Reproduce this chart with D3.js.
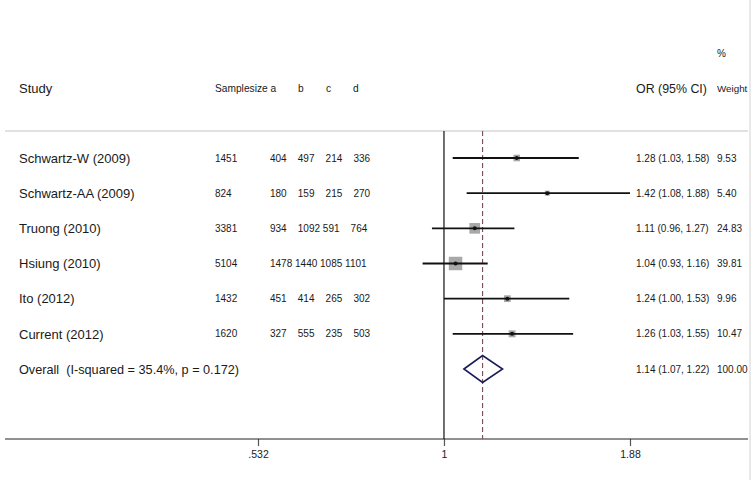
<!DOCTYPE html>
<html>
<head>
<meta charset="utf-8">
<script src="https://cdn.jsdelivr.net/npm/d3@7"></script>
<style>
  body { margin: 0; background: #fff; }
  text { font-family: "Liberation Sans", Arial, sans-serif; fill: #1a1a1a; white-space: pre; }
</style>
</head>
<body>
<div id="chart"></div>
<script>
let studies    = ['Schwartz-W (2009)', 'Schwartz-AA (2009)', 'Truong (2010)', 'Hsiung (2010)', 'Ito (2012)', 'Current (2012)'];
let sampleSize = [1451, 824, 3381, 5104, 1432, 1620];
let colA       = [404, 180, 934, 1478, 451, 327];
let colB       = [497, 159, 1092, 1440, 414, 555];
let colC       = [214, 215, 591, 1085, 265, 235];
let colD       = [336, 270, 764, 1101, 302, 503];
let orVal      = [1.28, 1.42, 1.11, 1.04, 1.24, 1.26];
let ciLow      = [1.03, 1.08, 0.96, 0.93, 1.00, 1.03];
let ciHigh     = [1.58, 1.88, 1.27, 1.16, 1.53, 1.55];
let weights    = [9.53, 5.40, 24.83, 39.81, 9.96, 10.47];

let overallLabel = 'Overall  (I-squared = 35.4%, p = 0.172)';
let overall      = [1.14, 1.07, 1.22];
let overallWeight = 100.00;

let tickValues = [0.532, 1, 1.88];
let tickLabels = ['.532', '1', '1.88'];

let chart_width  = 751;
let chart_height = 480;

let svg = d3.select('#chart')
    .append('svg')
    .attr('width', chart_width)
    .attr('height', chart_height);

// scales
let xScale = d3.scaleLog()
    .domain([0.532, 1.88])
    .range([258, 630]);

let yScale = d3.scaleLinear()
    .domain([0, 6])
    .range([158, 369]);

let boxScale = d3.scaleSqrt()
    .domain([0, 40])
    .range([0, 13.5]);

let plotTop = 131, plotBottom = 439;

// faint right border like the screenshot edge
svg.append('line')
    .attr('x1', 750).attr('x2', 750)
    .attr('y1', 0).attr('y2', chart_height)
    .attr('stroke', '#e2e2e2').attr('stroke-width', 1.5);

// header
svg.append('text').attr('x', 717).attr('y', 57).attr('font-size', 10).text('%');
svg.append('text').attr('x', 19).attr('y', 93).attr('font-size', 13).text('Study');
svg.append('text').attr('x', 215).attr('y', 92).attr('font-size', 10.2).text('Samplesize a');
svg.append('text').attr('x', 298).attr('y', 92).attr('font-size', 10.2).text('b');
svg.append('text').attr('x', 326).attr('y', 92).attr('font-size', 10.2).text('c');
svg.append('text').attr('x', 353).attr('y', 92).attr('font-size', 10.2).text('d');
svg.append('text').attr('x', 636).attr('y', 93).attr('font-size', 12.4).text('OR (95% CI)');
svg.append('text').attr('x', 717).attr('y', 92).attr('font-size', 9.8).text('Weight');

// header rule
svg.append('line')
    .attr('x1', 5).attr('x2', 748)
    .attr('y1', plotTop).attr('y2', plotTop)
    .attr('stroke', '#c4c4c4').attr('stroke-width', 1.2);

// x axis
let xAxis = d3.axisBottom(xScale)
    .tickValues(tickValues)
    .tickSize(7)
    .tickFormat((d, i) => tickLabels[i]);

let axisG = svg.append('g')
    .attr('class', 'x-axis')
    .attr('transform', 'translate(0,' + plotBottom + ')')
    .call(xAxis);
axisG.select('.domain').remove();
axisG.selectAll('.tick line').attr('stroke', '#555').attr('stroke-width', 1.2);
axisG.selectAll('.tick text')
    .attr('y', 12)
    .attr('font-size', 10.5)
    .style('font-family', '"Liberation Sans", Arial, sans-serif')
    .attr('fill', '#333');

svg.append('line')
    .attr('x1', 5).attr('x2', 748)
    .attr('y1', plotBottom).attr('y2', plotBottom)
    .attr('stroke', '#222').attr('stroke-width', 1.2);

// null line
svg.append('line')
    .attr('x1', xScale(1)).attr('x2', xScale(1))
    .attr('y1', plotTop).attr('y2', plotBottom)
    .attr('stroke', '#111').attr('stroke-width', 1.2);

// overall dashed line
svg.append('line')
    .attr('x1', xScale(overall[0])).attr('x2', xScale(overall[0]))
    .attr('y1', plotTop).attr('y2', plotBottom)
    .attr('stroke', '#7a4a55').attr('stroke-width', 1.1)
    .attr('stroke-dasharray', '5,3');

// rows
let rows = studies.map((s, i) => ({
    study: s, n: sampleSize[i], a: colA[i], b: colB[i], c: colC[i], d: colD[i],
    or: orVal[i], lo: ciLow[i], hi: ciHigh[i], w: weights[i], i: i
}));

function cell(v) {
    let s = String(v);
    return s + (s.length < 4 ? '    ' : ' ');
}

let rowG = svg.append('g').selectAll('g')
    .data(rows)
    .enter()
    .append('g')
    .attr('transform', d => 'translate(0,' + yScale(d.i) + ')');

rowG.append('text').attr('x', 19).attr('dy', '0.36em').attr('font-size', 13).text(d => d.study);
rowG.append('text').attr('x', 215).attr('dy', '0.36em').attr('font-size', 10).text(d => d.n);
rowG.append('text').attr('x', 270).attr('dy', '0.36em').attr('font-size', 10)
    .text(d => [d.a, d.b, d.c, d.d].map(cell).join(''));

rowG.append('rect')
    .attr('x', d => xScale(d.or) - boxScale(d.w) / 2)
    .attr('y', d => -boxScale(d.w) / 2)
    .attr('width', d => boxScale(d.w))
    .attr('height', d => boxScale(d.w))
    .attr('fill', '#a8a8a8');

rowG.append('line')
    .attr('x1', d => xScale(d.lo)).attr('x2', d => xScale(d.hi))
    .attr('y1', 0).attr('y2', 0)
    .attr('stroke', '#111').attr('stroke-width', 1.8);

rowG.append('circle')
    .attr('cx', d => xScale(d.or)).attr('cy', 0).attr('r', 2)
    .attr('fill', '#111');

rowG.append('text').attr('x', 636).attr('dy', '0.36em').attr('font-size', 10)
    .text(d => d.or.toFixed(2) + ' (' + d.lo.toFixed(2) + ', ' + d.hi.toFixed(2) + ')');
rowG.append('text').attr('x', 717).attr('dy', '0.36em').attr('font-size', 10)
    .text(d => d.w.toFixed(2));

// overall row
let oy = yScale(6);
svg.append('text').attr('x', 19).attr('y', oy).attr('dy', '0.36em').attr('font-size', 12.7).text(overallLabel);
svg.append('path')
    .attr('d', 'M' + xScale(overall[1]) + ',' + oy +
               'L' + xScale(overall[0]) + ',' + (oy - 13.5) +
               'L' + xScale(overall[2]) + ',' + oy +
               'L' + xScale(overall[0]) + ',' + (oy + 13.5) + 'Z')
    .attr('fill', 'none')
    .attr('stroke', '#1c1c5c')
    .attr('stroke-width', 1.6);
svg.append('text').attr('x', 636).attr('y', oy).attr('dy', '0.36em').attr('font-size', 10)
    .text(overall[0].toFixed(2) + ' (' + overall[1].toFixed(2) + ', ' + overall[2].toFixed(2) + ')');
svg.append('text').attr('x', 717).attr('y', oy).attr('dy', '0.36em').attr('font-size', 10)
    .text(overallWeight.toFixed(2));
</script>
</body>
</html>
